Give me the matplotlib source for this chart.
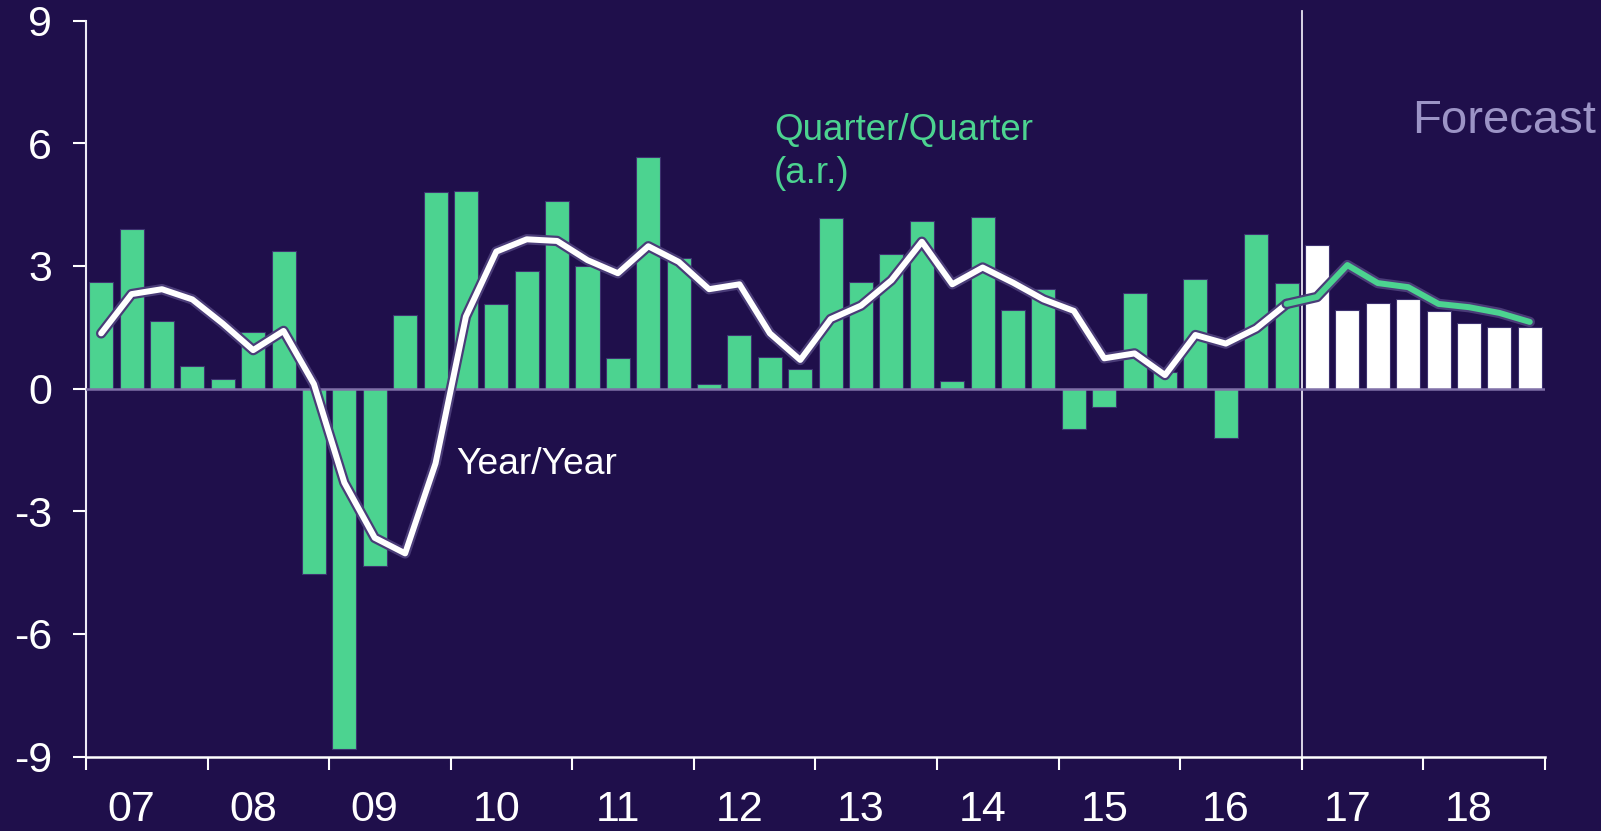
import matplotlib
matplotlib.use("Agg")
import matplotlib.pyplot as plt
import matplotlib.patheffects as pe
import numpy as np

plt.rcParams['font.family'] = ['Liberation Sans', 'DejaVu Sans']

# ---- data ----
year_labels = ["07", "08", "09", "10", "11", "12", "13", "14", "15", "16", "17", "18"]
qq_actual = [2.60, 3.91, 1.66, 0.55,
             0.23, 1.39, 3.37, -4.54,
             -8.81, -4.34, 1.81, 4.80,
             4.84, 2.07, 2.87, 4.58,
             2.99, 0.75, 5.66, 3.19,
             0.12, 1.32, 0.78, 0.48,
             4.17, 2.60, 3.30, 4.09,
             0.19, 4.19, 1.93, 2.43,
             -1.00, -0.45, 2.33, 0.40,
             2.68, -1.20, 3.79, 2.59]
qq_forecast = [3.52, 1.92, 2.10, 2.19,
               1.89, 1.60, 1.51, 1.51]
yy_actual = [1.35, 2.31, 2.43, 2.18,
             1.59, 0.94, 1.41, 0.11,
             -2.30, -3.65, -4.03, -1.83,
             1.76, 3.35, 3.65, 3.61,
             3.14, 2.82, 3.48, 3.10,
             2.43, 2.55, 1.35, 0.70,
             1.70, 2.03, 2.65, 3.59,
             2.55, 2.96, 2.59, 2.18,
             1.90, 0.74, 0.86, 0.33,
             1.31, 1.10, 1.47, 2.07]
# forecast year/year starts from last actual point (2016Q4)
yy_forecast = [2.07, 2.24, 3.02, 2.58, 2.48, 2.07, 1.99, 1.85, 1.63]

BG = '#1F0F4B'
GREEN = '#4CD390'
OUTLINE = '#4A3C78'
LAVENDER = '#9C94C6'

n_act = len(qq_actual)
n_fc = len(qq_forecast)
x_act = np.arange(n_act)
x_fc = np.arange(n_act, n_act + n_fc)
x_yy_act = np.arange(len(yy_actual))
x_yy_fc = np.arange(n_act - 1, n_act - 1 + len(yy_forecast))

fig = plt.figure(figsize=(16.01, 8.31), dpi=100, facecolor=BG)
ax = fig.add_axes([0.0537, 0.0895, 0.9113, 0.8858])
ax.set_facecolor(BG)

ax.bar(x_act, qq_actual, width=0.79, color=GREEN, edgecolor='#3E3270', linewidth=0.8, zorder=2)
ax.bar(x_fc, qq_forecast, width=0.79, color='white', edgecolor='#3E3270', linewidth=0.8, zorder=2)

ax.axhline(0, color='#7F70A8', linewidth=1.8, zorder=3)
ax.axvline(n_act - 0.5, color='#E8E4F2', linewidth=1.3, ymin=0, ymax=1.013, clip_on=False, zorder=1)

peff = [pe.Stroke(linewidth=7.5, foreground=OUTLINE), pe.Normal()]
ax.plot(x_yy_act, yy_actual, color='white', linewidth=4.3, solid_joinstyle='round',
        solid_capstyle='round', path_effects=peff, zorder=5)
ax.plot(x_yy_fc, yy_forecast, color=GREEN, linewidth=4.3, solid_joinstyle='round',
        solid_capstyle='round', path_effects=peff, zorder=5)

ax.set_xlim(-0.5, n_act + n_fc - 0.5)
ax.set_ylim(-9, 9)

ax.set_yticks([-9, -6, -3, 0, 3, 6, 9])
ax.set_yticklabels(['-9', '-6', '-3', '0', '3', '6', '9'])
ax.tick_params(axis='y', colors='white', labelsize=31, length=9.5, width=1.5, pad=15,
               direction='out')

n_years = len(year_labels)
ax.set_xticks(np.arange(n_years + 1) * 4 - 0.5)
ax.set_xticklabels([])
ax.set_xticks(np.arange(n_years) * 4 + 1.0, minor=True)
ax.set_xticklabels(year_labels, minor=True)
ax.tick_params(axis='x', which='major', colors='white', length=9, width=1.5, direction='out')
ax.tick_params(axis='x', which='minor', colors='white', length=0, labelsize=31, pad=24)

for s in ['top', 'right']:
    ax.spines[s].set_visible(False)
ax.spines['left'].set_color('#EDEAF5')
ax.spines['bottom'].set_color('white')
ax.spines['left'].set_linewidth(1.5)
ax.spines['bottom'].set_linewidth(1.8)

ax.text(22.13, 6.30, 'Quarter/Quarter', color=GREEN, fontsize=26.5, va='center', ha='left')
ax.text(22.13, 5.26, '(a.r.)', color=GREEN, fontsize=26.5, va='center', ha='left')
ax.text(11.68, -1.86, 'Year/Year', color='white', fontsize=26.8, va='center', ha='left')
ax.text(43.14, 6.54, 'Forecast', color=LAVENDER, fontsize=34, va='center', ha='left', clip_on=False)

fig.savefig('out.png', dpi=100, facecolor=BG)
